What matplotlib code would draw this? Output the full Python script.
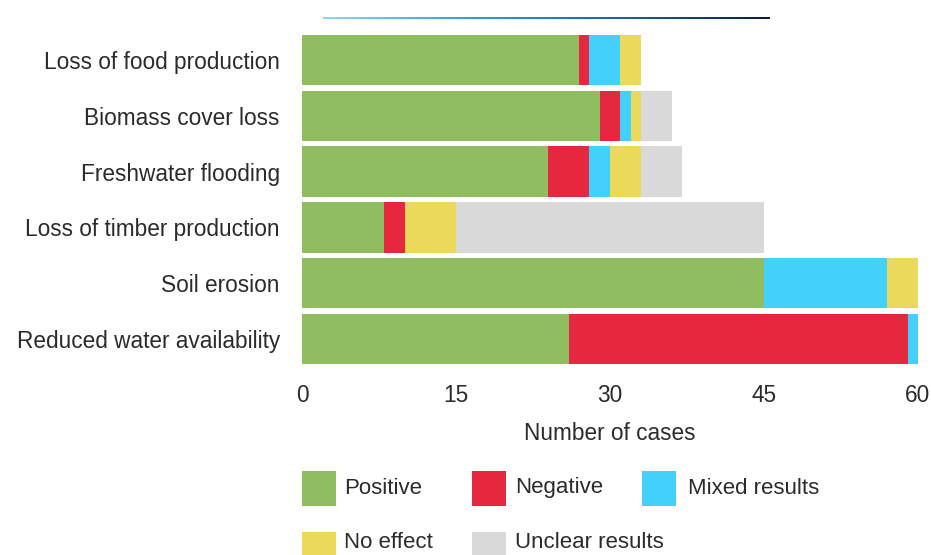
import matplotlib
matplotlib.use("Agg")
import matplotlib.pyplot as plt
import numpy as np
from matplotlib.patches import Rectangle
from matplotlib.colors import LinearSegmentedColormap

plt.rcParams['font.family'] = ['Liberation Sans', 'DejaVu Sans']

categories = ["Loss of food production", "Biomass cover loss", "Freshwater flooding",
              "Loss of timber production", "Soil erosion", "Reduced water availability"]
positive = [27, 29, 24, 8, 45, 26]
negative = [1, 2, 4, 2, 0, 33]
mixed = [3, 1, 2, 0, 12, 1]
no_effect = [2, 1, 3, 5, 3, 0]
unclear = [0, 3, 4, 30, 0, 0]
series_names = ["Positive", "Negative", "Mixed results", "No effect", "Unclear results"]
xticks = [0, 15, 30, 45, 60]

colors = ["#8FBD5F", "#E5283F", "#44D0FC", "#EAD95B", "#D9D9D9"]
text_color = "#2b2b2b"

W, H = 931, 555
fig = plt.figure(figsize=(W / 100, H / 100), dpi=100)

def fx(px):
    return px / W

def fy(py):
    return 1 - py / H

ax_top, ax_bot = 32, 367
ax = fig.add_axes([fx(302), fy(ax_bot), fx(918) - fx(302), (ax_bot - ax_top) / H])

series = [positive, negative, mixed, no_effect, unclear]
y = np.arange(len(categories))
left = np.zeros(len(categories))
for vals, c, name in zip(series, colors, series_names):
    v = np.array(vals, dtype=float)
    ax.barh(y, v, left=left, height=0.9, color=c, edgecolor='none', label=name)
    left += v

ax.set_xlim(0, 60)
ax.set_ylim(len(categories) - 0.5, -0.5)
ax.set_yticks(y)
ax.set_yticklabels(categories, fontsize=16.3, color=text_color)
ax.set_xticks(xticks)
ax.set_xticklabels([str(t) for t in xticks], fontsize=16.3, color=text_color)
ax.tick_params(axis='both', length=0)
ax.tick_params(axis='y', pad=16)
ax.tick_params(axis='x', pad=12)
ax.set_xlabel("Number of cases", fontsize=16.3, color=text_color, labelpad=11)
for s in ax.spines.values():
    s.set_visible(False)

# gradient rule at top
gax = fig.add_axes([fx(323), fy(19), fx(770) - fx(323), 2.5 / H])
cmap = LinearSegmentedColormap.from_list("g", ["#8ad8f8", "#2b9fe0", "#1566a8", "#0b1f3a"])
gax.imshow(np.linspace(0, 1, 256)[None, :], aspect='auto', cmap=cmap)
gax.axis('off')

# legend drawn manually
leg_cols = [(302, 344), (472, 515), (642, 688)]
leg_rows = [471, 532]
text_centers = [488, 543]
order = [(0, 0), (0, 1), (0, 2), (1, 0), (1, 1)]
for i, (r, c) in enumerate(order):
    px, tx = leg_cols[c]
    top = leg_rows[r]
    fig.add_artist(Rectangle((fx(px), fy(top + 35)), 34 / W, 35 / H,
                             transform=fig.transFigure, facecolor=colors[i],
                             edgecolor='none'))
    fig.text(fx(tx), fy(text_centers[r]), series_names[i], fontsize=16, color=text_color,
             va='center', ha='left')

fig.savefig("out.png", dpi=100)
